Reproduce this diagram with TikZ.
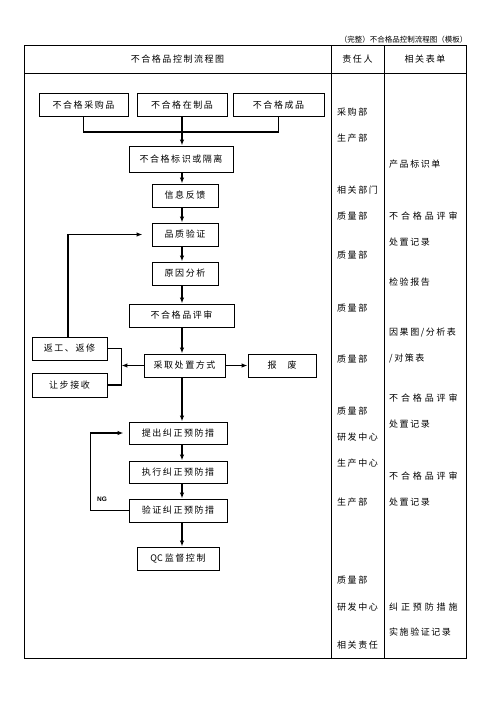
\documentclass[tikz,border=0pt]{standalone}
\usepackage{fontspec}
\usepackage{tikz}
\usetikzlibrary{calc, positioning, arrows.meta}
\newfontfamily\cjk[LetterSpace=17]{Noto Sans CJK SC}
\newfontfamily\cjkw[LetterSpace=32]{Noto Sans CJK SC}
\newfontfamily\cjkn{Noto Sans CJK SC}
\newfontfamily\ngfont{Liberation Sans}

\begin{document}
\begin{tikzpicture}[>={Latex[length=6pt,width=4.5pt]}, x=1pt, y=-1pt,
    font=\cjk\fontsize{9}{11}\selectfont,
    box/.style={draw, line width=0.9pt, inner sep=0pt, minimum height=23pt},
    link/.style={line width=1.4pt},
    flow/.style={->, line width=1.4pt},
    rule/.style={line width=0.8pt}]
    \useasboundingbox (0,0) rectangle (496,702);

    % 1. 表格
    \node[anchor=east, font=\cjkn\fontsize{7.5}{9}\selectfont] (top) at (471,40) {（完整）不合格品控制流程图（模板）};
    \draw[rule] (24,45) rectangle (466,658);
    \draw[rule] (24,73) -- (466,73);
    \draw[rule] (331,45) -- (331,658);
    \draw[rule] (384,45) -- (384,658);
    \node (h1) at (177.5,59) {不合格品控制流程图};
    \node (h2) at (357.5,59) {责任人};
    \node (h3) at (425,59) {相关表单};

    % 2. 流程框
    \coordinate (col) at (182,0);
    \node[box, minimum width=89pt] (cgp) at (83.5,105) {不合格采购品};
    \node[box, minimum width=90pt] (zzp) at (182,105) {不合格在制品};
    \node[box, minimum width=91pt] (cp) at (278.5,105) {不合格成品};
    \node[box, minimum width=104pt, minimum height=26pt] (glj) at (181,159) {不合格标识或隔离};
    \node[box, minimum width=66pt] (fk) at (185,195.5) {信息反馈};
    \node[box, minimum width=66pt] (yz) at (185,234.5) {品质验证};
    \node[box, minimum width=66pt] (fx) at (185,273.5) {原因分析};
    \node[box, minimum width=105pt] (ps) at (181.5,315.5) {不合格品评审};
    \node[box, minimum width=81pt] (cz) at (184.5,365.5) {采取处置方式};
    \node[box, minimum width=68pt] (bf) at (282,365.5) {报\hspace{11pt}废};
    \node[box, minimum width=75pt] (fg) at (69.5,348.5) {返工、返修};
    \node[box, minimum width=75pt, minimum height=24pt] (rb) at (69.5,385) {让步接收};
    \node[box, minimum width=98pt, minimum height=22pt] (tc) at (178,433) {提出纠正预防措};
    \node[box, minimum width=98pt, minimum height=22pt] (zx) at (178,472) {执行纠正预防措};
    \node[box, minimum width=98pt] (yzc) at (178,510.5) {验证纠正预防措};
    \node[box, minimum width=82pt] (qc) at (178,558.5) {{\cjkn QC\ }监督控制};

    % 3. 连线
    \draw[link] (cgp.south) -- ++(0,15) -| (cp.south);
    \draw[flow] (zzp.south) -- (glj.north -| zzp.south);
    \draw[flow] (glj.south -| col) -- (fk.north -| col);
    \draw[flow] (fk.south -| col) -- (yz.north -| col);
    \draw[flow] (yz.south -| col) -- (fx.north -| col);
    \draw[flow] (fx.south -| col) -- (ps.north -| col);
    \draw[flow] (ps.south -| col) -- (cz.north -| col);
    \draw[flow] (cz.east) -- (bf.west);
    \draw[link] (fg.east) -- ++(14,0) coordinate (brk) |- (rb.east);
    \draw[flow] (cz.west) -- (cz.west -| brk);
    \draw[flow] ([xshift=-1.5pt]fg.north) |- ([xshift=-9pt]yz.west);
    \draw[flow] (cz.south -| col) -- (tc.north -| col);
    \draw[flow] (tc.south -| col) -- (zx.north -| col);
    \draw[flow] (zx.south -| col) -- (yzc.north -| col);
    \draw[flow] (yzc.south -| col) -- (qc.north -| col);
    \draw[flow] (yzc.west) -- ++(-38,0) |- ([xshift=-5pt]tc.west);
    \node[font=\ngfont\bfseries\fontsize{6.5}{7}\selectfont] (ng) at (102,499) {NG};

    % 4. 责任人、相关表单
    \foreach \y/\t [count=\i] in {112/采购部, 138/生产部, 190/相关部门, 216/质量部, 255/质量部,
        308/质量部, 359/质量部, 411/质量部, 437/研发中心, 463/生产中心, 502/生产部,
        580/质量部, 607/研发中心, 645/相关责任}
        \node[anchor=west, inner sep=0pt] (duty\i) at (337,\y) {\t};
    \foreach \y/\t [count=\i] in {164/产品标识单, 242/处置记录, 282/检验报告, 333/{因果图/分析表},
        359/{/对策表}, 424/处置记录, 502/处置记录, 632/实施验证记录}
        \node[anchor=west, inner sep=0pt] (form\i) at (389,\y) {\t};
    \foreach \y/\t [count=\i] in {216/不合格品评审, 398/不合格品评审, 476/不合格品评审, 607/纠正预防措施}
        \node[anchor=west, inner sep=0pt, font=\cjkw\fontsize{9}{11}\selectfont] (formw\i) at (389,\y) {\t};
\end{tikzpicture}
\end{document}
